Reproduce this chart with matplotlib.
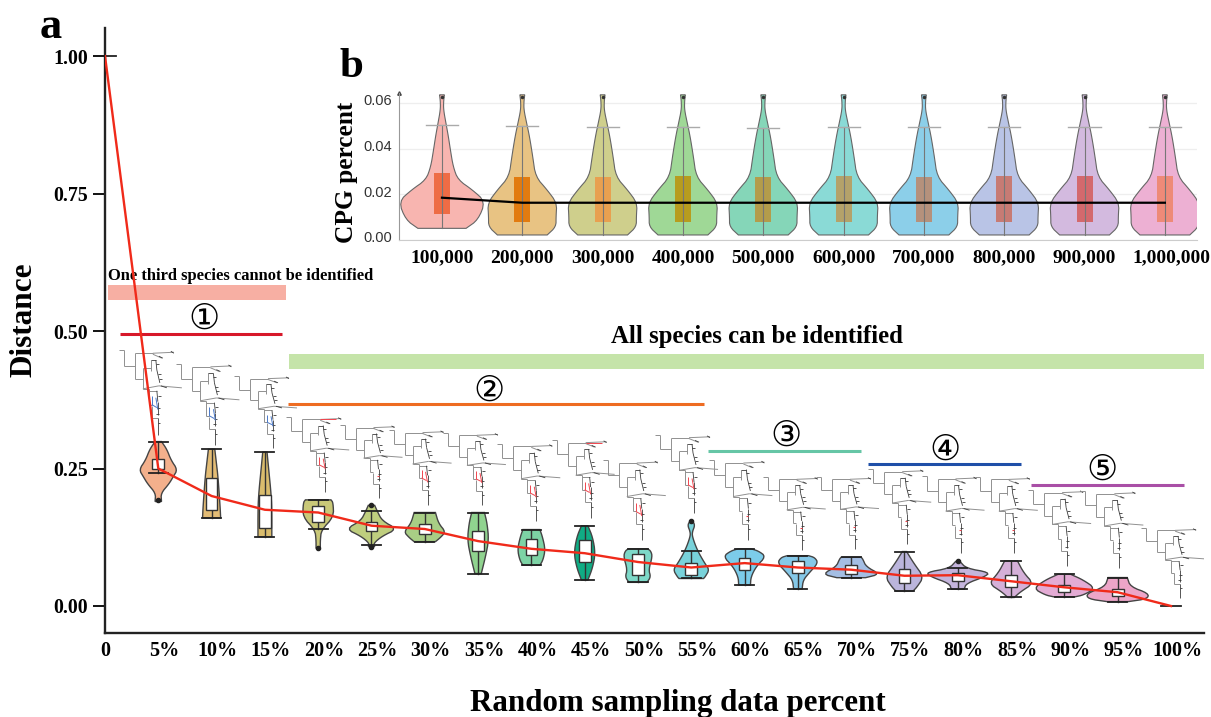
"""Distance vs sampling percent violins, with the CPG percent inset."""

import matplotlib

matplotlib.use("Agg")
import matplotlib.pyplot as plt
import numpy as np
from matplotlib.collections import LineCollection
from matplotlib.transforms import ScaledTranslation

plt.rcParams["font.family"] = ["Liberation Serif", "DejaVu Serif"]

# ---- panel a ----
percents = [5, 10, 15, 20, 25, 30, 35, 40, 45, 50, 55, 60, 65, 70, 75, 80, 85, 90, 95]
tick_labels = ["5%", "10%", "15%", "20%", "25%", "30%", "35%", "40%", "45%", "50%",
               "55%", "60%", "65%", "70%", "75%", "80%", "85%", "90%", "95%", "100%"]
line_x = [0, 5, 10, 15, 20, 25, 30, 35, 40, 45, 50, 55, 60, 65, 70, 75, 80, 85, 90, 95, 100]
line_y = [1.0, 0.25, 0.2, 0.175, 0.17, 0.146, 0.14, 0.118, 0.104, 0.096, 0.08, 0.07,
          0.078, 0.07, 0.066, 0.055, 0.056, 0.045, 0.034, 0.025, 0.0]
violin_colours = ["#f3b08c", "#e3bc75", "#d9bc6d", "#c9c878", "#bfce7e", "#a8ce85", "#90d38f",
                  "#7dd3a5", "#10ac84", "#7dd8c8", "#78d2da", "#7cccea", "#85c8e8", "#a4bee4",
                  "#bbb5dc", "#c4b4dc", "#d5b0d8", "#e3abd4", "#eda5c8"]
# bottom to top: distance value and half width (in percent units)
violin_levels = [
    [0.19, 0.205, 0.222, 0.235, 0.248, 0.265, 0.285, 0.299],
    [0.16, 0.18, 0.235, 0.26, 0.285],
    [0.126, 0.17, 0.2, 0.25, 0.28],
    [0.105, 0.12, 0.138, 0.162, 0.188, 0.193],
    [0.108, 0.114, 0.127, 0.14, 0.155, 0.172, 0.183],
    [0.117, 0.125, 0.135, 0.15, 0.17],
    [0.059, 0.09, 0.12, 0.15, 0.17],
    [0.074, 0.084, 0.103, 0.125, 0.139],
    [0.047, 0.07, 0.096, 0.125, 0.146],
    [0.043, 0.053, 0.066, 0.09, 0.1, 0.104],
    [0.05, 0.053, 0.066, 0.078, 0.102, 0.126, 0.135, 0.147, 0.155],
    [0.038, 0.053, 0.072, 0.09, 0.1, 0.104],
    [0.031, 0.047, 0.06, 0.078, 0.088, 0.0915],
    [0.0515, 0.058, 0.0715, 0.085, 0.0885],
    [0.027, 0.035, 0.053, 0.077, 0.099],
    [0.0305, 0.041, 0.053, 0.061, 0.0685, 0.081],
    [0.0155, 0.026, 0.041, 0.06, 0.082],
    [0.0167, 0.02, 0.032, 0.047, 0.0576],
    [0.008, 0.013, 0.023, 0.035, 0.0517],
]
violin_widths = [
    [0.3, 0.25, 1.0, 1.4, 1.8, 1.2, 0.8, 0.3],
    [0.85, 0.8, 0.6, 0.45, 0.3],
    [0.65, 0.65, 0.6, 0.35, 0.2],
    [0.2, 0.2, 0.3, 1.45, 1.4, 1.2],
    [0.3, 0.2, 1.0, 2.4, 1.0, 0.55, 0.3],
    [1.0, 1.5, 1.95, 1.3, 1.0],
    [0.3, 0.7, 1.0, 0.85, 0.6],
    [0.8, 1.1, 1.3, 1.05, 0.8],
    [0.3, 0.75, 1.0, 0.75, 0.3],
    [0.85, 1.2, 1.0, 1.35, 1.2, 0.9],
    [1.15, 1.3, 1.7, 1.25, 0.55, 0.1, 0.1, 0.35, 0.1],
    [0.55, 0.6, 1.1, 2.0, 1.3, 0.6],
    [0.4, 0.5, 1.05, 1.9, 1.6, 1.0],
    [1.35, 2.7, 1.4, 1.1, 0.95],
    [0.8, 1.2, 1.8, 0.9, 0.2],
    [0.6, 0.8, 2.5, 3.0, 0.8, 0.2],
    [0.3, 0.9, 2.1, 1.2, 0.6],
    [1.0, 1.8, 2.9, 1.8, 0.6],
    [1.0, 2.8, 2.9, 1.2, 0.9],
]
box_low = [0.2485, 0.175, 0.142, 0.153, 0.137, 0.131, 0.1, 0.093, 0.08, 0.057, 0.056,
           0.0655, 0.0592, 0.058, 0.0424, 0.0462, 0.0352, 0.0256, 0.0176]
box_high = [0.267, 0.232, 0.202, 0.182, 0.153, 0.149, 0.137, 0.122, 0.12, 0.094, 0.079,
            0.0878, 0.0823, 0.0745, 0.0677, 0.0594, 0.0564, 0.0389, 0.0309]
whisker_low = [0.241, 0.16, 0.126, 0.14, 0.111, 0.117, 0.059, 0.074, 0.047, 0.043, 0.05,
               0.038, 0.031, 0.0515, 0.027, 0.0305, 0.0155, 0.0167, 0.008]
whisker_high = [0.299, 0.285, 0.28, 0.193, 0.172, 0.17, 0.17, 0.139, 0.146, 0.104, 0.1,
                0.104, 0.0915, 0.0885, 0.099, 0.07, 0.082, 0.0576, 0.0517]
outlier_x = [5, 20, 25, 25, 55, 80]
outlier_y = [0.192, 0.105, 0.183, 0.108, 0.155, 0.081]

tree_x = [1.3, 6.7, 12.1, 17.0, 22.0, 26.6, 31.7, 36.8, 41.9, 46.7, 51.6,
          56.7, 61.7, 66.7, 71.6, 76.6, 81.6, 86.6, 91.5, 97.2]
tree_y = [0.465, 0.44, 0.418, 0.344, 0.329, 0.320, 0.315, 0.295, 0.302, 0.265, 0.311,
          0.265, 0.235, 0.235, 0.249, 0.236, 0.235, 0.211, 0.209, 0.142]
tree_height = [85, 81, 72, 75, 73, 75, 72, 77, 78, 80, 78, 80, 73, 72, 75, 77, 76, 76, 77, 70]
tree_colours = ["#4a78c8"] * 3 + ["#f0454e"] * 17
# 2: whole lower clade coloured, 1: a single leaf, 0: none
tree_accents = [2, 2, 2, 2, 1, 2, 2, 2, 2, 2, 2, 1, 1, 1, 1, 1, 1, 0, 0, 0]
tree_red_branch = [3, 8]

# tree outline in pixels from the root, 86 px tall
tree_grey = [((0, 0), (5, 0)), ((5, 0), (5, 16)), ((5, 16), (16, 16)), ((16, 3), (16, 29)),
             ((16, 3), (34, 3)), ((34, 3), (55, 2)), ((34, 4), (43, 8)), ((16, 29), (24, 29)),
             ((24, 18), (24, 39)), ((24, 18), (32, 18)), ((32, 10), (32, 21)),
             ((24, 39), (40, 36)), ((40, 36), (63, 38)), ((24, 39), (30, 39)), ((30, 39), (30, 55)),
             ((30, 41), (38, 41)), ((30, 55), (33, 55)), ((33, 56), (33, 69)), ((33, 69), (39, 69))]
tree_dark = [((32, 10), (37, 10)), ((37, 10), (38, 20)), ((38, 20), (41, 33)), ((37, 14), (40, 14)),
             ((38, 41), (39, 52)), ((39, 52), (39, 66)), ((39, 69), (39, 86)), ((52, 1), (55, 3)),
             ((42, 36), (48, 38)), ((40, 6), (44, 8)), ((39, 24), (42, 24)), ((40, 29), (43, 29)),
             ((39, 46), (42, 46)), ((38, 58), (41, 58)), ((37, 64), (40, 64)), ((39, 74), (41, 74))]
tree_accent_low = [((33, 46), (33, 55)), ((33, 55), (38, 58)), ((37, 48), (39, 60))]
tree_accent_leaf = [((37, 60), (39, 60))]
tree_accent_branch = [((34, 3), (50, 3))]

bands = [(0.3, 17.0, 0.556, 0.584, "#f7afa3"), (17.26, 103.1, 0.431, 0.458, "#c5e4a9")]
group_spans = [(1.4, 16.6, 0.495, "#d7182a"), (17.2, 56.2, 0.367, "#ee6c22"),
               (56.6, 70.9, 0.282, "#66c6a6"), (71.6, 85.9, 0.258, "#1f4fa8"),
               (86.9, 101.2, 0.22, "#a94fa6")]
group_marks = ["①", "②", "③", "④", "⑤"]
group_mark_x = [9.3, 36.0, 63.9, 78.8, 93.5]
group_mark_y = [0.523, 0.392, 0.309, 0.285, 0.248]

# ---- panel b ----
sample_labels = ["100,000", "200,000", "300,000", "400,000", "500,000",
                 "600,000", "700,000", "800,000", "900,000", "1,000,000"]
cpg_colours = ["#f8b5b0", "#e8c383", "#cfcf8c", "#9fd896", "#85d6b8",
               "#8adad6", "#8ccfe9", "#b9c4e6", "#d3badf", "#edb0d3"]
cpg_box_colours = ["#ee6c45", "#e27b10", "#e8a050", "#b79c1f", "#b39c4b",
                   "#b4a26a", "#b5917c", "#c77b74", "#d3696d", "#ee8a78"]
cpg_levels_first = [0.0051, 0.0088, 0.0168, 0.0219, 0.0263, 0.032, 0.0394, 0.0452, 0.051, 0.0569, 0.0605, 0.0635]
cpg_widths_first = [0.3, 0.45, 0.54, 0.38, 0.2, 0.14, 0.105, 0.08, 0.05, 0.02, 0.02, 0.03]
cpg_levels_rest = [0.0022, 0.0058, 0.0102, 0.0162, 0.0219, 0.0277, 0.0365, 0.0452, 0.051, 0.0569, 0.0605, 0.0635]
cpg_widths_rest = [0.31, 0.42, 0.42, 0.43, 0.31, 0.165, 0.13, 0.09, 0.055, 0.02, 0.02, 0.03]
cpg_box_low = [0.0115, 0.0077, 0.0077, 0.0077, 0.0077, 0.0077, 0.0077, 0.0077, 0.0077, 0.0077]
cpg_box_high = [0.0295, 0.0277, 0.0277, 0.0278, 0.0277, 0.0278, 0.0277, 0.0278, 0.0278, 0.0278]
cpg_whisker = [0.0505, 0.0497, 0.0493, 0.0493, 0.049, 0.0493, 0.0493, 0.0493, 0.0493, 0.0493]
cpg_median = [0.0185, 0.0163, 0.0163, 0.0163, 0.0163, 0.0163, 0.0163, 0.0163, 0.0163, 0.0163]

WIDTH, HEIGHT = 1211, 717
PX_X = 10.66  # pixels per percent on panel a
PX_Y = 550.0  # pixels per unit of distance


def axes_rect(left, right, top, bottom):
    return [left / WIDTH, 1 - bottom / HEIGHT, (right - left) / WIDTH, (bottom - top) / HEIGHT]


def smooth(widths, levels, rounds=2):
    """Corner cutting on a half profile, ends stay where they are."""
    pts = np.column_stack([widths, levels])
    for _ in range(rounds):
        q = 0.75 * pts[:-1] + 0.25 * pts[1:]
        r = 0.25 * pts[:-1] + 0.75 * pts[1:]
        mid = np.empty((len(q) * 2, 2))
        mid[0::2], mid[1::2] = q, r
        pts = np.vstack([pts[0], mid, pts[-1]])
    return pts[:, 0], pts[:, 1]


def draw_violin(ax, x, levels, widths, colour, edge="#444444", lw=1.0):
    w, y = smooth(widths, levels)
    xs = np.concatenate([x - w, (x + w)[::-1]])
    ys = np.concatenate([y, y[::-1]])
    ax.fill(xs, ys, facecolor=colour, edgecolor=edge, lw=lw, closed=True, zorder=3)


def draw_tree(ax, x0, y0, height, colour, accent, red_branch):
    scale = height / 86

    def add(segs, segs_colour, lw):
        placed = [[(x0 + a / PX_X, y0 - b * scale / PX_Y), (x0 + c / PX_X, y0 - d * scale / PX_Y)]
                  for (a, b), (c, d) in segs]
        ax.add_collection(LineCollection(placed, colors=segs_colour, lw=lw, zorder=2))

    add(tree_grey, "#909090", 0.7)
    add(tree_dark, "#3a3a3a", 0.6)
    if accent == 2:
        add(tree_accent_low, colour, 0.7)
    elif accent == 1:
        add(tree_accent_leaf, colour, 0.8)
    if red_branch:
        add(tree_accent_branch, colour, 0.7)


fig = plt.figure(figsize=(WIDTH / 100, HEIGHT / 100), dpi=100)

# panel a
ax = fig.add_axes(axes_rect(105, 1204, 28, 633))
ax.set_xlim(0, 103.1)
ax.set_ylim(-0.0491, 1.051)
for side in ["top", "right"]:
    ax.spines[side].set_visible(False)
for side in ["left", "bottom"]:
    ax.spines[side].set_linewidth(1.7)
    ax.spines[side].set_color("#222222")

ax.set_yticks([0, 0.25, 0.5, 0.75, 1.0], ["0.00", "0.25", "0.50", "0.75", "1.00"],
              fontweight="bold", fontsize=14.3)
ax.tick_params(axis="y", length=9, width=1.3, pad=3)
ax.plot([0, 1], [1, 1], color="#222222", lw=1.3, zorder=1)

ax.set_xticks([0] + percents + [100], ["0"] + tick_labels, fontweight="bold", fontsize=14.5)
ax.tick_params(axis="x", length=0, pad=6)
for label in ax.get_xticklabels()[1:]:
    label.set_transform(label.get_transform() + ScaledTranslation(6 / 100, 0, fig.dpi_scale_trans))

ax.set_xlabel("Random sampling data percent", fontweight="bold", fontsize=22.3, labelpad=0)
ax.xaxis.set_label_coords((678 - 105) / 1099, -(703 - 633) / 605, transform=ax.transAxes)
ax.xaxis.label.set_va("center")
ax.set_ylabel("Distance", fontweight="bold", fontsize=22.5)
ax.yaxis.set_label_coords(-(105 - 24) / 1099, (633 - 320) / 605, transform=ax.transAxes)
ax.yaxis.label.set_va("center")

for x0, x1, y0, y1, colour in bands:
    ax.fill_between([x0, x1], y0, y1, color=colour, lw=0, zorder=1)
for (x0, x1, y, colour), mark, mx, my in zip(group_spans, group_marks, group_mark_x, group_mark_y):
    ax.plot([x0, x1], [y, y], color=colour, lw=2.2, solid_capstyle="butt", zorder=2)
    ax.text(mx, my, mark, family="DejaVu Sans", fontsize=25, ha="center", va="center", color="black")
ax.text(0.3, 0.6, "One third species cannot be identified", fontweight="bold", fontsize=11.9,
        ha="left", va="center")
ax.text(61.2, 0.49, "All species can be identified", fontweight="bold", fontsize=17.8,
        ha="center", va="center")

for i in range(len(tree_x)):
    draw_tree(ax, tree_x[i], tree_y[i], tree_height[i], tree_colours[i], tree_accents[i],
              i in tree_red_branch)

for i, p in enumerate(percents):
    draw_violin(ax, p, violin_levels[i], violin_widths[i], violin_colours[i])
    ax.plot([p, p], [whisker_low[i], whisker_high[i]], color="#333333", lw=1.0, zorder=4)
    ax.plot([p - 0.9, p + 0.9], [whisker_low[i]] * 2, color="#222222", lw=1.3, zorder=4)
    ax.plot([p - 0.9, p + 0.9], [whisker_high[i]] * 2, color="#222222", lw=1.3, zorder=4)
    ax.bar(p, box_high[i] - box_low[i], bottom=box_low[i], width=1.1, facecolor="white",
           edgecolor="#333333", lw=1.0, zorder=5)
ax.plot([99.1, 100.9], [0, 0], color="#222222", lw=1.3, zorder=4)
ax.scatter(outlier_x, outlier_y, s=9, color="#222222", zorder=4)
ax.plot(line_x, line_y, color="#f02a1a", lw=1.7, zorder=6)

# panel b
ins = fig.add_axes(axes_rect(399, 1197, 93, 240))
ins.patch.set_alpha(0)
ins.set_xlim(-0.535, 9.4)
ins.set_ylim(0, 0.0643)
for side in ["top", "right"]:
    ins.spines[side].set_visible(False)
ins.spines["left"].set_color("#999999")
ins.spines["bottom"].set_color("#cccccc")
ins.grid(axis="y", color="#eeeeee", lw=0.9)
ins.set_axisbelow(True)
ins.set_yticks([0, 0.02, 0.04, 0.06], ["0.00", "0.02", "0.04", "0.06"], family="Liberation Sans",
               fontsize=10.5, color="#333333")
ins.tick_params(axis="y", length=0, pad=5)
for label in ins.get_yticklabels():
    label.set_transform(label.get_transform() + ScaledTranslation(0, 3 / 100, fig.dpi_scale_trans))
ins.set_xticks(range(10), sample_labels, fontweight="bold", fontsize=14)
ins.tick_params(axis="x", length=0, pad=7)
last = ins.get_xticklabels()[-1]
last.set_transform(last.get_transform() + ScaledTranslation(7 / 100, 0, fig.dpi_scale_trans))
ins.set_ylabel("CPG percent", fontweight="bold", fontsize=18.3)
ins.yaxis.set_label_coords(-(399 - 347) / 798, (240 - 172) / 147, transform=ins.transAxes)
ins.yaxis.label.set_va("center")
ins.plot(0, 1, marker="^", ms=2.5, color="#444444", transform=ins.transAxes, clip_on=False)

for i in range(10):
    levels = cpg_levels_first if i == 0 else cpg_levels_rest
    widths = cpg_widths_first if i == 0 else cpg_widths_rest
    draw_violin(ins, i, levels, widths, cpg_colours[i], edge="#666666", lw=0.8)
    ins.bar(i, cpg_box_high[i] - cpg_box_low[i], bottom=cpg_box_low[i], width=0.2,
            color=cpg_box_colours[i], zorder=4)
    ins.plot([i, i], [levels[0], cpg_whisker[i]], color="#777777", lw=0.8, zorder=5)
    ins.plot([i - 0.2, i + 0.2], [cpg_whisker[i]] * 2, color="#aaaaaa", lw=1.0, zorder=5)
    ins.plot(i, 0.0627, marker="o", ms=1.5, color="#333333", zorder=5)
ins.plot(range(10), cpg_median, color="black", lw=1.6, zorder=6)

fig.text(51 / WIDTH, 1 - 27 / HEIGHT, "a", fontweight="bold", fontsize=32, ha="center", va="center")
fig.text(351 / WIDTH, 1 - 67 / HEIGHT, "b", fontweight="bold", fontsize=31, ha="center", va="center")

fig.savefig("out.png", dpi=100)
plt.close(fig)
